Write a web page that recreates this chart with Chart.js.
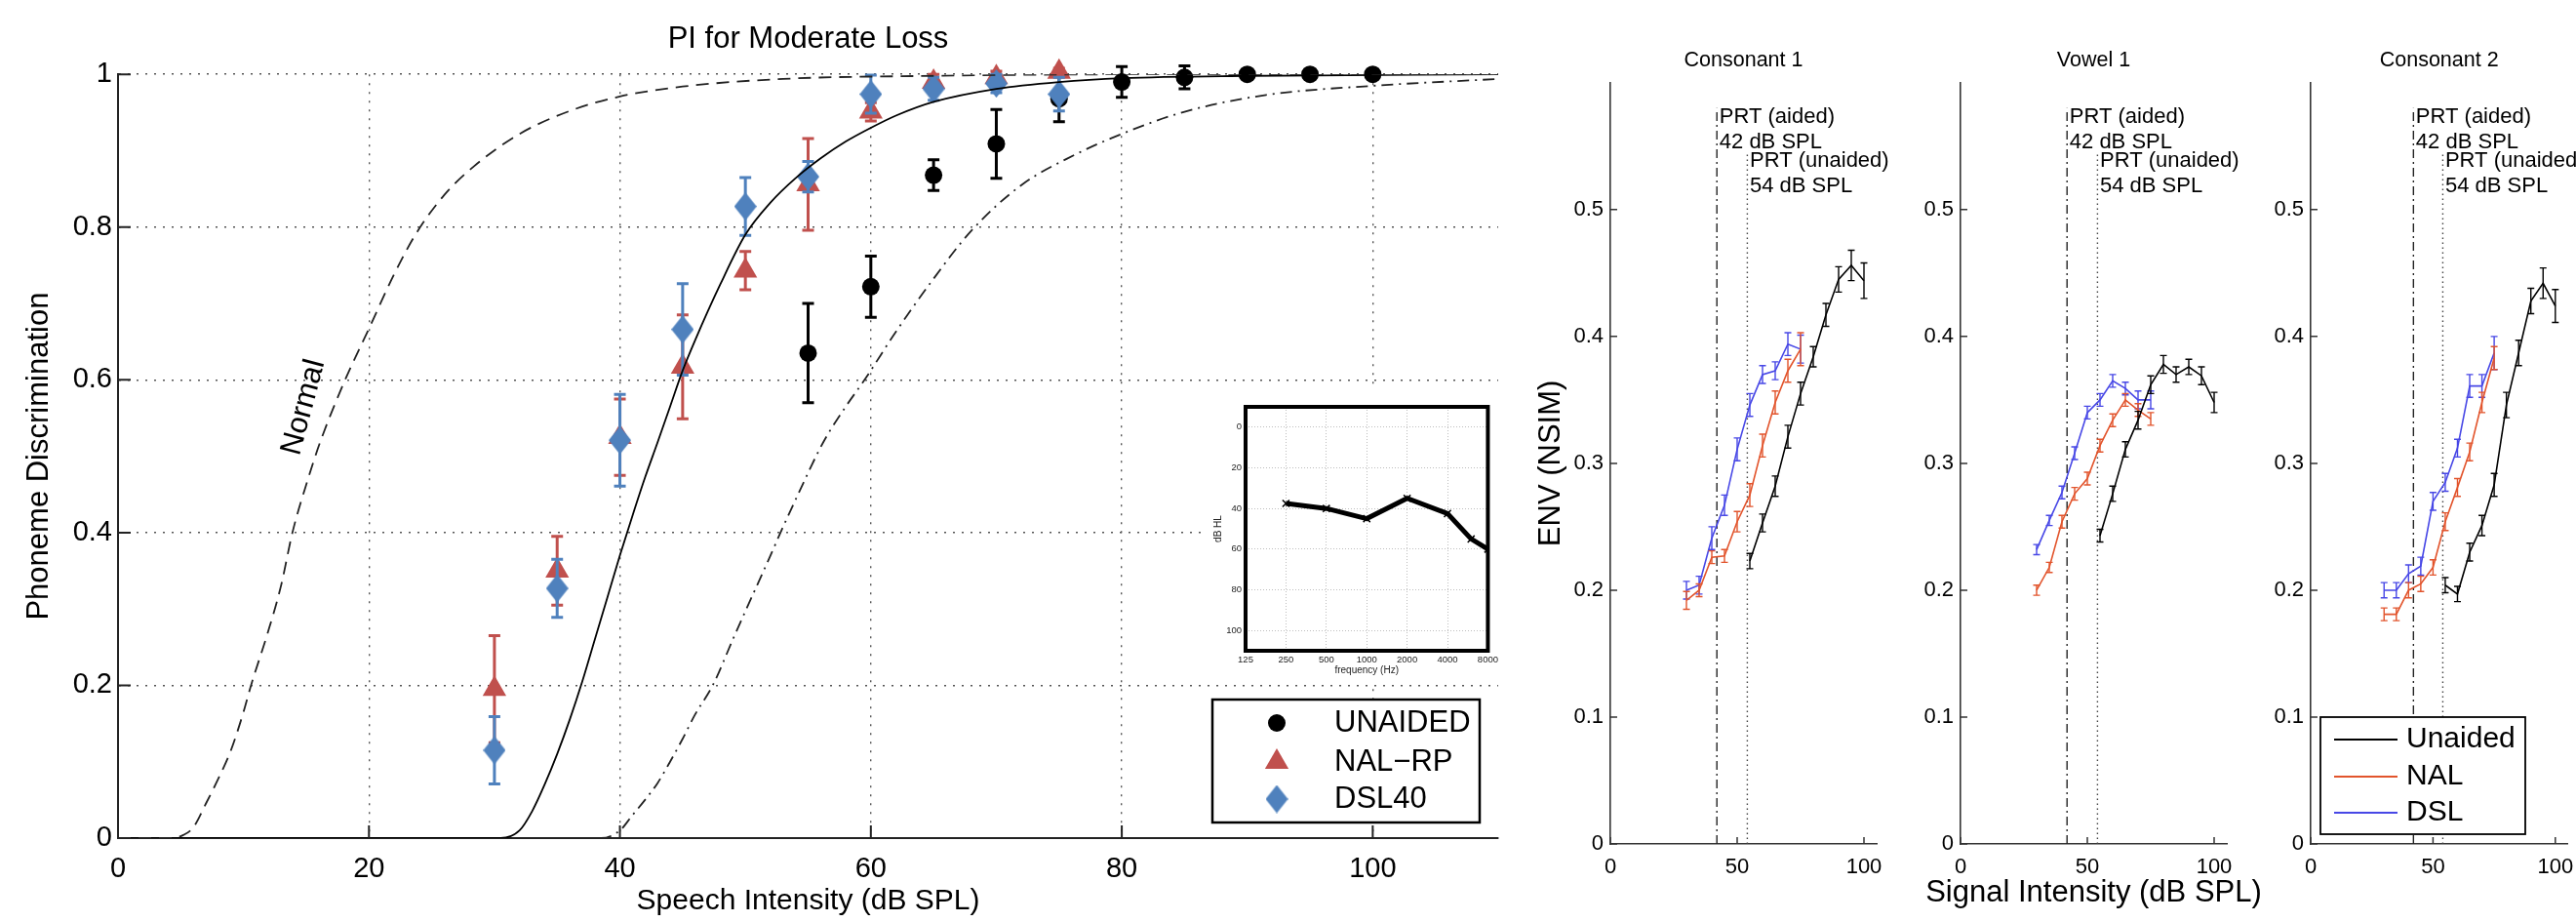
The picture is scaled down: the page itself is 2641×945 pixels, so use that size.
<!DOCTYPE html>
<html>
<head>
<meta charset="utf-8">
<script src="https://cdn.jsdelivr.net/npm/chart.js@4.4.1/dist/chart.umd.min.js"></script>
<style>
  html, body { margin: 0; padding: 0; background: #fff; width: 2641px; height: 945px; overflow: hidden; }
  canvas { position: absolute; }
</style>
</head>
<body>
<canvas id="main" width="1560" height="945" style="left:0;top:0"></canvas>
<canvas id="inset" width="304" height="302" style="left:1236px;top:398px"></canvas>
<canvas id="p1" width="440" height="945" style="left:1560px;top:0"></canvas>
<canvas id="p2" width="430" height="945" style="left:1930px;top:0"></canvas>
<canvas id="p3" width="360" height="945" style="left:2290px;top:0"></canvas>
<script>
// --- Datos: grafico principal (PI for Moderate Loss) ---
const mainXTicks = [0, 20, 40, 60, 80, 100];
const mainYTicks = [0, 0.2, 0.4, 0.6, 0.8, 1];

const unaidedLevels = [55, 60, 65, 70, 75, 80, 85, 90, 95, 100];
const unaidedPI = [0.635, 0.722, 0.868, 0.909, 0.968, 0.990, 0.996, 1.0, 1.0, 1.0];
const unaidedErr = [0.065, 0.040, 0.020, 0.045, 0.030, 0.020, 0.015, 0, 0, 0];

const aidedLevels = [30, 35, 40, 45, 50, 55, 60, 65, 70, 75];
const nalPI = [0.195, 0.350, 0.525, 0.617, 0.743, 0.856, 0.951, 0.990, 0.996, 1.003];
const nalErr = [0.070, 0.045, 0.050, 0.068, 0.025, 0.060, 0.012, 0.010, 0.008, 0.005];
const dslPI = [0.115, 0.327, 0.521, 0.666, 0.827, 0.866, 0.974, 0.981, 0.988, 0.974];
const dslErr = [0.044, 0.038, 0.060, 0.060, 0.038, 0.020, 0.025, 0.015, 0.012, 0.022];

// curvas
const normalX = [0, 4.3, 5.2, 6, 7, 8, 9, 10, 10.6, 11.9, 13, 13.9, 15.1, 16.1, 18.1, 20, 22, 23.7, 26, 28.4, 32, 36, 40, 45, 53, 65, 80, 110];
const normalY = [0, 0, 0.004, 0.014, 0.045, 0.078, 0.115, 0.165, 0.2, 0.267, 0.331, 0.4, 0.468, 0.518, 0.6, 0.667, 0.738, 0.79, 0.842, 0.88, 0.922, 0.952, 0.971, 0.984, 0.994, 0.998, 1.0, 1.0];
const moderateX = [0, 30.5, 32, 33, 34, 35, 36, 37, 38, 39, 40, 41, 42, 43, 44, 45, 46, 48, 50, 52, 54, 56, 58, 60, 62, 65, 70, 75, 80, 90, 110];
const moderateY = [0, 0, 0.01, 0.035, 0.07, 0.11, 0.155, 0.205, 0.26, 0.315, 0.37, 0.422, 0.472, 0.518, 0.565, 0.612, 0.652, 0.725, 0.79, 0.832, 0.864, 0.89, 0.912, 0.93, 0.946, 0.964, 0.981, 0.99, 0.995, 0.998, 1.0];
const shiftedX = [0, 38.5, 40, 41, 42, 43, 44, 45, 46, 47.4, 49, 50, 52, 52.8, 54, 56.2, 58, 59.5, 62, 64.8, 68, 72, 76.3, 80, 85, 91.5, 100, 110];
const shiftedY = [0, 0, 0.01, 0.03, 0.05, 0.072, 0.1, 0.13, 0.162, 0.2, 0.26, 0.297, 0.37, 0.4, 0.443, 0.518, 0.565, 0.6, 0.663, 0.728, 0.795, 0.855, 0.895, 0.922, 0.951, 0.973, 0.985, 0.994];

// --- Datos: audiograma (inset) ---
const audFreq = [250, 500, 1000, 2000, 4000, 6000, 8000];
const audHL = [37.5, 40, 45, 35, 42.5, 55, 60];
const audXTicks = [125, 250, 500, 1000, 2000, 4000, 8000];
const audYTicks = [0, 20, 40, 60, 80, 100];

// --- Datos: paneles ENV (NSIM) ---
const sigXTicks = [0, 50, 100];
const sigYTicks = [0, 0.1, 0.2, 0.3, 0.4, 0.5];
const sigAided = [30, 35, 40, 45, 50, 55, 60, 65, 70, 75];
const sigUnaided = [55, 60, 65, 70, 75, 80, 85, 90, 95, 100];
const prtLevels = [42, 54];
const prtTops = [0.58, 0.545];
const prtText = ['PRT (aided)', '42 dB SPL', 'PRT (unaided)', '54 dB SPL'];
const prtTextX = [43, 43, 55, 55];
const prtTextY = [0.573, 0.553, 0.538, 0.518];

const c1Una = [0.223, 0.253, 0.282, 0.321, 0.355, 0.384, 0.417, 0.445, 0.456, 0.444];
const c1UnaErr = [0.006, 0.007, 0.008, 0.009, 0.009, 0.008, 0.009, 0.010, 0.012, 0.014];
const c1Nal = [0.192, 0.200, 0.226, 0.227, 0.254, 0.275, 0.314, 0.348, 0.373, 0.390];
const c1NalErr = [0.007, 0.005, 0.005, 0.005, 0.008, 0.009, 0.009, 0.009, 0.009, 0.013];
const c1Dsl = [0.200, 0.204, 0.241, 0.267, 0.311, 0.346, 0.370, 0.373, 0.394, 0.390];
const c1DslErr = [0.007, 0.007, 0.009, 0.008, 0.009, 0.009, 0.007, 0.007, 0.009, 0.011];

const v1Una = [0.243, 0.276, 0.311, 0.334, 0.362, 0.378, 0.370, 0.376, 0.369, 0.348];
const v1UnaErr = [0.005, 0.006, 0.006, 0.007, 0.007, 0.007, 0.006, 0.006, 0.007, 0.008];
const v1Nal = [0.200, 0.218, 0.254, 0.276, 0.288, 0.314, 0.334, 0.350, 0.342, 0.335];
const v1NalErr = [0.004, 0.004, 0.005, 0.005, 0.005, 0.005, 0.005, 0.005, 0.005, 0.005];
const v1Dsl = [0.232, 0.255, 0.277, 0.308, 0.340, 0.350, 0.365, 0.359, 0.350, 0.350];
const v1DslErr = [0.004, 0.004, 0.005, 0.005, 0.005, 0.005, 0.005, 0.005, 0.007, 0.007];

const c2Una = [0.204, 0.197, 0.230, 0.251, 0.283, 0.346, 0.387, 0.428, 0.442, 0.424];
const c2UnaErr = [0.006, 0.006, 0.007, 0.008, 0.009, 0.010, 0.010, 0.010, 0.012, 0.013];
const c2Nal = [0.181, 0.181, 0.200, 0.205, 0.218, 0.254, 0.281, 0.309, 0.348, 0.383];
const c2NalErr = [0.005, 0.005, 0.006, 0.006, 0.006, 0.007, 0.007, 0.007, 0.008, 0.009];
const c2Dsl = [0.200, 0.200, 0.213, 0.219, 0.270, 0.285, 0.312, 0.361, 0.361, 0.387];
const c2DslErr = [0.006, 0.006, 0.007, 0.007, 0.007, 0.007, 0.007, 0.009, 0.009, 0.013];

// --- Estilo global ---
const FONT = '"Liberation Sans", Arial, Helvetica, sans-serif';
Chart.defaults.font.family = FONT;
Chart.defaults.color = '#000';
Chart.defaults.animation = false;
Chart.defaults.events = [];
Chart.defaults.plugins.legend.display = false;
Chart.defaults.plugins.tooltip.enabled = false;

const RED = '#c0504d', BLUE = '#4f81bd';
const P_BLACK = '#000', P_RED = '#e2542c', P_BLUE = '#4747e6';

function pts(xs, ys) { return xs.map((x, i) => ({ x: x, y: ys[i] })); }
function fixedTicks(list) { return s => { s.ticks = list.map(v => ({ value: v })); }; }

function diamondMarker(w, h, color) {
    const c = document.createElement('canvas');
    c.width = w; c.height = h;
    const g = c.getContext('2d');
    g.fillStyle = color;
    g.beginPath();
    g.moveTo(w / 2, 0); g.lineTo(w, h / 2); g.lineTo(w / 2, h); g.lineTo(0, h / 2);
    g.closePath(); g.fill();
    return c;
}

// --- Plugins ---
// barras de error, dibujadas antes de cada dataset
const errorBars = {
    id: 'errorBars',
    beforeDatasetDraw(chart, args) {
        const ds = chart.data.datasets[args.index];
        if (!ds.errors) return;
        const ctx = chart.ctx;
        const yScale = chart.scales[args.meta.yAxisID];
        const cap = ds.capHalf || 4;
        ctx.save();
        ctx.strokeStyle = ds.borderColor;
        ctx.lineWidth = ds.errorWidth || 1;
        args.meta.data.forEach((pt, i) => {
            const e = ds.errors[i];
            if (!e) return;
            const v = ds.data[i].y;
            const y1 = yScale.getPixelForValue(v + e);
            const y2 = yScale.getPixelForValue(v - e);
            ctx.beginPath();
            ctx.moveTo(pt.x, y1); ctx.lineTo(pt.x, y2);
            ctx.moveTo(pt.x - cap, y1); ctx.lineTo(pt.x + cap, y1);
            ctx.moveTo(pt.x - cap, y2); ctx.lineTo(pt.x + cap, y2);
            ctx.stroke();
        });
        ctx.restore();
    }
};

// ticks hacia dentro (estilo matlab)
function inTicks(len, color, width) {
    return {
        id: 'inTicks',
        afterDraw(chart) {
            const { ctx, chartArea: a, scales: { x, y } } = chart;
            ctx.save();
            ctx.strokeStyle = color; ctx.lineWidth = width;
            ctx.beginPath();
            x.ticks.forEach(t => {
                const px = x.getPixelForValue(t.value);
                ctx.moveTo(px, a.bottom); ctx.lineTo(px, a.bottom - len);
            });
            y.ticks.forEach(t => {
                const py = y.getPixelForValue(t.value);
                ctx.moveTo(a.left, py); ctx.lineTo(a.left + len, py);
            });
            ctx.stroke();
            ctx.restore();
        }
    };
}

// textos en coordenadas de datos
function notes(items) {
    return {
        id: 'notes',
        afterDatasetsDraw(chart) {
            const ctx = chart.ctx;
            items.forEach(it => {
                const px = chart.scales.x.getPixelForValue(it.x);
                const py = chart.scales.y.getPixelForValue(it.y);
                ctx.save();
                ctx.translate(px, py);
                ctx.rotate((it.rotation || 0) * Math.PI / 180);
                ctx.font = it.font;
                ctx.fillStyle = '#000';
                ctx.textAlign = it.align || 'left';
                ctx.textBaseline = 'middle';
                ctx.fillText(it.text, 0, 0);
                ctx.restore();
            });
        }
    };
}

// leyenda en caja
function boxLegend(cfg) {
    return {
        id: 'boxLegend',
        afterDraw(chart) {
            const ctx = chart.ctx;
            ctx.save();
            ctx.fillStyle = '#fff';
            ctx.fillRect(cfg.x, cfg.y, cfg.w, cfg.h);
            ctx.lineWidth = cfg.border;
            ctx.strokeStyle = '#000';
            ctx.strokeRect(cfg.x, cfg.y, cfg.w, cfg.h);
            ctx.font = cfg.font;
            ctx.textBaseline = 'middle';
            ctx.textAlign = 'left';
            cfg.rows.forEach(r => {
                const ds = chart.data.datasets[r.index];
                if (cfg.kind === 'line') {
                    ctx.strokeStyle = ds.borderColor;
                    ctx.lineWidth = 2;
                    ctx.beginPath();
                    ctx.moveTo(cfg.symX0, r.y); ctx.lineTo(cfg.symX1, r.y);
                    ctx.stroke();
                } else {
                    ctx.fillStyle = ds.backgroundColor;
                    Chart.helpers.drawPoint(ctx, { pointStyle: ds.pointStyle, radius: ds.pointRadius, rotation: 0, borderWidth: 0 }, cfg.symX, r.y);
                }
                ctx.fillStyle = '#000';
                ctx.fillText(ds.label, cfg.textX, r.y);
            });
            ctx.restore();
        }
    };
}

// --- Grafico principal ---
const gridMain = { color: '#555', lineWidth: 1.4, drawTicks: false };
const borderMain = { color: '#222', width: 2, dash: [2, 7] };

new Chart(document.getElementById('main'), {
    type: 'scatter',
    data: {
        datasets: [
            { label: 'normal', data: pts(normalX, normalY), showLine: true, borderColor: '#222', borderWidth: 1.8, borderDash: [13, 8], pointRadius: 0, cubicInterpolationMode: 'monotone' },
            { label: 'moderate', data: pts(moderateX, moderateY), showLine: true, borderColor: '#000', borderWidth: 1.8, pointRadius: 0, cubicInterpolationMode: 'monotone' },
            { label: 'shifted', data: pts(shiftedX, shiftedY), showLine: true, borderColor: '#222', borderWidth: 1.8, borderDash: [12, 6, 2, 6], pointRadius: 0, cubicInterpolationMode: 'monotone' },
            { label: 'DSL40', data: pts(aidedLevels, dslPI), errors: dslErr, capHalf: 6, errorWidth: 3,
              borderColor: BLUE, backgroundColor: BLUE, pointStyle: diamondMarker(23, 29, BLUE), pointRadius: 12, clip: false },
            { label: 'NAL\u2212RP', data: pts(aidedLevels, nalPI), errors: nalErr, capHalf: 6, errorWidth: 3,
              borderColor: RED, backgroundColor: RED, pointStyle: 'triangle', pointRadius: 14, pointBorderWidth: 0, clip: false },
            { label: 'UNAIDED', data: pts(unaidedLevels, unaidedPI), errors: unaidedErr, capHalf: 6, errorWidth: 3,
              borderColor: '#000', backgroundColor: '#000', pointStyle: 'circle', pointRadius: 9, pointBorderWidth: 0, clip: false }
        ]
    },
    options: {
        responsive: false,
        devicePixelRatio: 1,
        layout: { padding: { left: 0, right: 24, top: 0, bottom: 0 } },
        plugins: {
            title: { display: true, text: 'PI for Moderate Loss', fullSize: false, color: '#000',
                     font: { size: 31, weight: 'normal' }, padding: { top: 22, bottom: 17 } }
        },
        scales: {
            x: {
                type: 'linear', min: 0, max: 110,
                afterBuildTicks: fixedTicks(mainXTicks),
                afterFit: s => { s.height = 86; },
                ticks: { font: { size: 29 }, color: '#000', padding: 15, maxRotation: 0, callback: v => String(v) },
                grid: gridMain, border: borderMain,
                title: { display: true, text: 'Speech Intensity (dB SPL)', color: '#000', font: { size: 30 }, padding: { top: 0, bottom: 3 } }
            },
            y: {
                type: 'linear', min: 0, max: 1,
                afterBuildTicks: fixedTicks(mainYTicks),
                afterFit: s => { s.width = 121; },
                ticks: { font: { size: 29 }, color: '#000', padding: 6, callback: v => String(v) },
                grid: gridMain, border: borderMain,
                title: { display: true, text: 'Phoneme Discrimination', color: '#000', font: { size: 31 }, padding: { top: 22, bottom: 0 } }
            }
        }
    },
    plugins: [
        errorBars,
        inTicks(13, '#222', 2),
        notes([{ text: 'Normal', x: 14.8, y: 0.564, rotation: -75, align: 'center', font: '31px ' + FONT }]),
        boxLegend({ x: 1243, y: 717, w: 274, h: 126, border: 2.5, font: '31px ' + FONT, kind: 'point',
                    symX: 1309, textX: 1368,
                    rows: [{ index: 5, y: 741 }, { index: 4, y: 781 }, { index: 3, y: 819 }] })
    ]
});

// --- Audiograma (inset) ---
new Chart(document.getElementById('inset'), {
    type: 'scatter',
    data: {
        datasets: [{
            label: 'dB HL', data: pts(audFreq, audHL), showLine: true,
            borderColor: '#000', backgroundColor: '#000', borderWidth: 5,
            pointStyle: 'crossRot', pointRadius: 5, pointBorderWidth: 1.5, pointBorderColor: '#000'
        }]
    },
    options: {
        responsive: false,
        devicePixelRatio: 1,
        layout: { padding: { left: 0, right: 13, top: 19, bottom: 0 } },
        scales: {
            x: {
                type: 'logarithmic', min: 125, max: 8000,
                afterBuildTicks: fixedTicks(audXTicks),
                afterFit: s => { s.height = 33; },
                ticks: { font: { size: 9.5 }, color: '#222', padding: 4, maxRotation: 0, callback: v => String(v) },
                grid: { color: '#bdbdbd', lineWidth: 1, drawTicks: false },
                border: { display: false, dash: [1, 2] },
                title: { display: true, text: 'frequency (Hz)', color: '#222', font: { size: 10 }, padding: { top: 0, bottom: 7 } }
            },
            y: {
                type: 'linear', min: -10, max: 110, reverse: true,
                afterBuildTicks: fixedTicks(audYTicks),
                afterFit: s => { s.width = 41; },
                ticks: { font: { size: 9.5 }, color: '#222', padding: 4, callback: v => String(v) },
                grid: { color: '#bdbdbd', lineWidth: 1, drawTicks: false },
                border: { display: false, dash: [1, 2] },
                title: { display: true, text: 'dB HL', color: '#222', font: { size: 10 }, padding: { top: 7, bottom: 0 } }
            }
        }
    },
    plugins: [{
        id: 'frame',
        beforeDraw(chart) {
            const ctx = chart.ctx;
            ctx.save(); ctx.fillStyle = '#fff';
            ctx.fillRect(0, 0, chart.width, chart.height);
            ctx.restore();
        },
        afterDraw(chart) {
            const { ctx, chartArea: a } = chart;
            ctx.save(); ctx.lineWidth = 4; ctx.strokeStyle = '#000';
            ctx.strokeRect(a.left, a.top, a.right - a.left, a.bottom - a.top);
            ctx.restore();
        }
    }]
});

// --- Paneles ENV (NSIM) ---
function panelSeries(label, levels, vals, errs, color) {
    return { label: label, data: pts(levels, vals), errors: errs, showLine: true,
             borderColor: color, backgroundColor: color, borderWidth: 1.6,
             pointRadius: 0, errorWidth: 1.4, capHalf: 3.5 };
}
function prtLine(i, dash, color) {
    return { label: 'prt' + i, data: [{ x: prtLevels[i], y: 0 }, { x: prtLevels[i], y: prtTops[i] }],
             showLine: true, borderColor: color, borderWidth: 1.4, borderDash: dash, pointRadius: 0 };
}
const prtNotes = prtText.map((t, i) => ({ text: t, x: prtTextX[i], y: prtTextY[i], font: '22px ' + FONT }));

function panel(id, p) {
    const items = prtNotes.slice();
    // el titulo del eje x es mas ancho que el panel: se dibuja como texto libre
    if (p.xTitle) items.push({ text: p.xTitle, x: 52.5, y: -0.0385, align: 'center', font: '31px ' + FONT });
    const plugins = [errorBars, inTicks(7, '#333', 1.5), notes(items)];
    if (p.legend) plugins.push(boxLegend(p.legend));
    return new Chart(document.getElementById(id), {
        type: 'scatter',
        data: {
            datasets: [
                panelSeries('Unaided', sigUnaided, p.una, p.unaErr, P_BLACK),
                panelSeries('NAL', sigAided, p.nal, p.nalErr, P_RED),
                panelSeries('DSL', sigAided, p.dsl, p.dslErr, P_BLUE),
                prtLine(0, [9, 4, 2, 4], '#222'),
                prtLine(1, [1.5, 3.5], '#444')
            ]
        },
        options: {
            responsive: false,
            devicePixelRatio: 1,
            layout: { padding: { left: 0, right: p.padRight, top: 0, bottom: 0 } },
            plugins: {
                title: { display: true, text: p.title, fullSize: false, color: '#000',
                         font: { size: 21.5, weight: 'normal' }, padding: { top: 49, bottom: 10 } }
            },
            scales: {
                x: {
                    type: 'linear', min: 0, max: 105,
                    afterBuildTicks: fixedTicks(sigXTicks),
                    afterFit: s => { s.height = 80; },
                    ticks: { font: { size: 22 }, color: '#000', padding: 11, maxRotation: 0, callback: v => String(v) },
                    grid: { display: false, drawTicks: false },
                    border: { color: '#333', width: 1.6 }
                },
                y: {
                    type: 'linear', min: 0, max: 0.6,
                    afterBuildTicks: fixedTicks(sigYTicks),
                    afterFit: s => { s.width = p.yWidth; },
                    ticks: { font: { size: 22 }, color: '#000', padding: 7, callback: v => String(v) },
                    grid: { display: false, drawTicks: false },
                    border: { color: '#333', width: 1.6 },
                    title: { display: !!p.yTitle, text: p.yTitle || '', color: '#000', font: { size: 31 }, padding: { top: 12, bottom: 0 } }
                }
            }
        },
        plugins: plugins
    });
}

panel('p1', { title: 'Consonant 1', yTitle: 'ENV (NSIM)', yWidth: 91, padRight: 76,
              una: c1Una, unaErr: c1UnaErr, nal: c1Nal, nalErr: c1NalErr, dsl: c1Dsl, dslErr: c1DslErr });
panel('p2', { title: 'Vowel 1', xTitle: 'Signal Intensity (dB SPL)', yWidth: 80, padRight: 77,
              una: v1Una, unaErr: v1UnaErr, nal: v1Nal, nalErr: v1NalErr, dsl: v1Dsl, dslErr: v1DslErr });
panel('p3', { title: 'Consonant 2', yWidth: 79, padRight: 8,
              una: c2Una, unaErr: c2UnaErr, nal: c2Nal, nalErr: c2NalErr, dsl: c2Dsl, dslErr: c2DslErr,
              legend: { x: 89, y: 735, w: 210, h: 120, border: 1.8, font: '30px ' + FONT, kind: 'line',
                        symX0: 103, symX1: 168, textX: 177,
                        rows: [{ index: 0, y: 758 }, { index: 1, y: 796 }, { index: 2, y: 833 }] } });
</script>
</body>
</html>
